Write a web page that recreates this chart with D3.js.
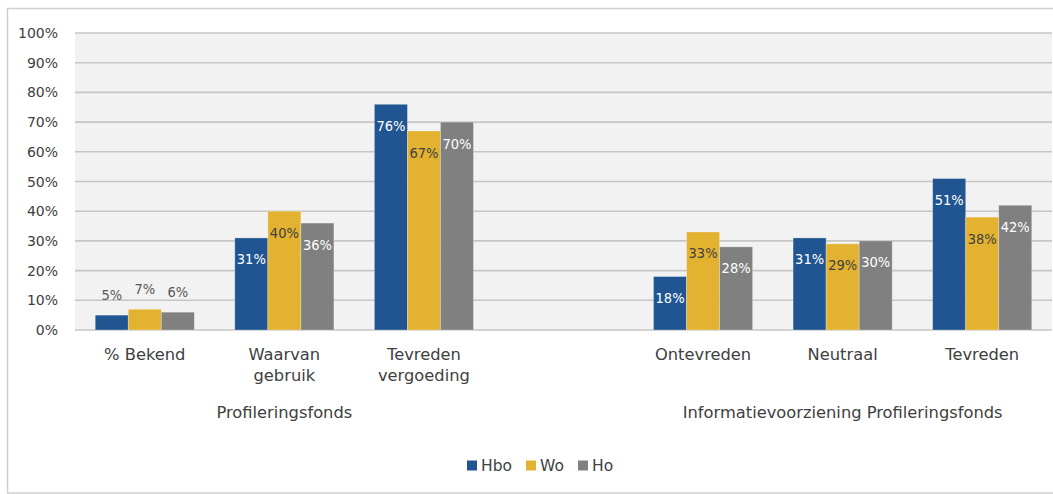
<!DOCTYPE html>
<html><head><meta charset="utf-8">
<script src="https://cdn.jsdelivr.net/npm/d3@7"></script>
<style>body{margin:0;background:#fff}svg{display:block}text{font-family:"DejaVu Sans",sans-serif}</style>
</head><body><svg id="c" width="1053" height="494"></svg>
<script>
const categories = ["% Bekend", "Waarvan|gebruik", "Tevreden|vergoeding", "", "Ontevreden", "Neutraal", "Tevreden"];
const groups = [
  {name: "Profileringsfonds", from: 0, to: 2},
  {name: "Informatievoorziening Profileringsfonds", from: 4, to: 6}
];
const seriesNames = ["Hbo", "Wo", "Ho"];
const hbo = [5, 31, 76, null, 18, 31, 51];
const wo  = [7, 40, 67, null, 33, 29, 38];
const ho  = [6, 36, 70, null, 28, 30, 42];
const yTicks = [0,10,20,30,40,50,60,70,80,90,100];
const colors = ["#215591", "#e3b231", "#808080"];
const labelColors = ["#ffffff", "#404040", "#ffffff"];
const seriesValues = [hbo, wo, ho];

const svg = d3.select("#c");
const L = 75, R = 1052, T = 33, B = 330;
svg.append("rect").attr("x",7.5).attr("y",8.5).attr("width",1060).attr("height",484.5)
  .attr("fill","#fff").attr("stroke","#d0d0d0").attr("stroke-width",1.5);

const x = d3.scaleBand().domain(d3.range(categories.length)).range([L, R]);
const groupW = x.bandwidth() * 0.71;
const x1 = d3.scaleBand().domain(d3.range(3))
  .range([(x.bandwidth()-groupW)/2, (x.bandwidth()+groupW)/2]).padding(0);
const y = d3.scaleLinear().domain([0, 100]).range([B, T]);

svg.append("rect").attr("x",L).attr("y",T).attr("width",R-L).attr("height",B-T).attr("fill","#f2f2f2");

const gy = svg.append("g");
gy.selectAll("line").data(yTicks).join("line")
  .attr("x1",L).attr("x2",R).attr("y1",d=>y(d)).attr("y2",d=>y(d))
  .attr("stroke","#c6c6c6").attr("stroke-width",1.6);
gy.selectAll("text").data(yTicks).join("text")
  .attr("x",58).attr("y",d=>y(d)).attr("dy","0.36em").attr("text-anchor","end")
  .attr("font-size",14).attr("fill","#404040").text(d=>d+"%");

seriesValues.forEach((vals, s) => {
  const data = vals.map((v,i)=>({v,i})).filter(d=>d.v!=null);
  const g = svg.append("g");
  g.selectAll("rect").data(data).join("rect")
    .attr("x", d=>x(d.i)+x1(s)).attr("width", x1.bandwidth())
    .attr("y", d=>y(d.v)).attr("height", d=>B-y(d.v))
    .attr("fill", colors[s]).attr("stroke","#ffffff").attr("stroke-opacity",0.35).attr("stroke-width",0.8);
  g.selectAll("text").data(data).join("text")
    .attr("x", d=>x(d.i)+x1(s)+x1.bandwidth()/2)
    .attr("y", d=> d.v < 10 ? y(d.v)-15.5 : y(d.v)+26.5)
    .attr("text-anchor","middle").attr("font-size",14.5)
    .style("font-family","'DejaVu Sans Condensed','DejaVu Sans',sans-serif")
    .attr("fill", d=> d.v < 10 ? "#595959" : labelColors[s])
    .text(d=>d.v+"%");
});

const cl = svg.append("g");
categories.forEach((c,i)=>{
  const lines = c.split("|");
  lines.forEach((ln,k)=>{
    cl.append("text").attr("x", x(i)+x.bandwidth()/2).attr("y", 360 + k*21)
      .attr("text-anchor","middle").attr("font-size",16.3).attr("fill","#404040").text(ln);
  });
});
groups.forEach(gr=>{
  const cx = (x(gr.from) + x(gr.to) + x.bandwidth())/2;
  svg.append("text").attr("x",cx).attr("y",417.5).attr("text-anchor","middle")
    .attr("font-size",16.3).attr("fill","#404040").text(gr.name);
});

const legendX = [467, 526, 578];
seriesNames.forEach((n,s)=>{
  svg.append("rect").attr("x",legendX[s]).attr("y",460.5).attr("width",10).attr("height",10).attr("fill",colors[s]);
  svg.append("text").attr("x",legendX[s]+14).attr("y",471).attr("font-size",15.5).attr("fill","#404040").text(n);
});
</script></body></html>
